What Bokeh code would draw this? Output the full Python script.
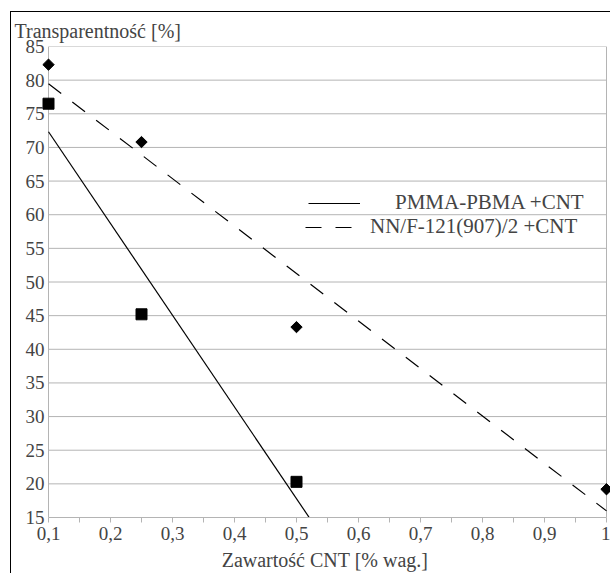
import numpy as np
from bokeh.plotting import figure
from bokeh.models import FixedTicker, Range1d, Legend, LegendItem, Span
from bokeh.embed import file_html
from bokeh.resources import INLINE

# data
pmma_x = [0.1, 0.25, 0.5]
pmma_y = [76.5, 45.2, 20.3]
nn_x = [0.1, 0.25, 0.5, 1.0]
nn_y = [82.3, 70.8, 43.3, 19.2]
series_names = ["PMMA-PBMA +CNT", "NN/F-121(907)/2 +CNT"]
x_ticks = [0.1, 0.2, 0.3, 0.4, 0.5, 0.6, 0.7, 0.8, 0.9, 1.0]
x_tick_labels = ["0,1", "0,2", "0,3", "0,4", "0,5", "0,6", "0,7", "0,8", "0,9", "1"]
x_minor = [0.15, 0.25, 0.35, 0.45, 0.55, 0.65, 0.75, 0.85, 0.95]
y_ticks = [15, 20, 25, 30, 35, 40, 45, 50, 55, 60, 65, 70, 75, 80, 85]

FONT = "Liberation Serif"
GRID = "#b4b4b4"

x_lo, x_hi = x_ticks[0], x_ticks[-1]
y_lo, y_hi = y_ticks[0], y_ticks[-1]
PX = 620.0  # pixels per x unit
pad_l, pad_r = 9, 4

p = figure(frame_width=int(round((x_hi - x_lo) * PX)) + pad_l + pad_r, frame_height=471,
           output_backend="svg", toolbar_location=None,
           x_range=Range1d(x_lo - pad_l / PX, x_hi + pad_r / PX), y_range=Range1d(y_lo, y_hi),
           min_border_left=28, min_border_right=0, min_border_top=34, min_border_bottom=56)
p.styles = {"margin-left": "10px", "margin-top": "11px",
            "border-left": "1px solid black", "border-top": "1px solid black"}

p.title.text = "Transparentność [%]"
p.title.align = "left"
p.title.offset = -25
p.title.text_font = FONT
p.title.text_font_size = "20px"
p.title.text_font_style = "normal"
p.title.standoff = 10

p.outline_line_color = None
p.xgrid.grid_line_color = None
p.ygrid.grid_line_color = None

# horizontal grid lines limited to the data area, plus left axis line and right border
p.segment(x0=[x_lo] * len(y_ticks), x1=[x_hi] * len(y_ticks), y0=y_ticks, y1=y_ticks,
          line_color=GRID, line_width=1, level="underlay")
p.add_layout(Span(location=x_hi, dimension="height", line_color=GRID, line_width=1, level="underlay"))
p.add_layout(Span(location=x_lo, dimension="height", line_color=GRID, line_width=1, level="underlay"))

xa = p.xaxis[0]
xa.ticker = FixedTicker(ticks=x_ticks, minor_ticks=x_minor)
xa.major_label_overrides = dict(zip(x_ticks, x_tick_labels))
xa.bounds = (x_lo, x_hi)
xa.axis_label = "Zawartość CNT [% wag.]"
xa.axis_label_text_font = FONT
xa.axis_label_text_font_size = "20px"
xa.axis_label_text_font_style = "normal"
xa.axis_label_standoff = 6
xa.major_label_text_font = FONT
xa.major_label_text_font_size = "19px"
xa.major_label_standoff = 4
xa.axis_line_color = GRID
xa.major_tick_line_color = GRID
xa.minor_tick_line_color = GRID
xa.major_tick_in = 0
xa.major_tick_out = 5
xa.minor_tick_in = 0
xa.minor_tick_out = 5

ya = p.yaxis[0]
ya.ticker = FixedTicker(ticks=y_ticks)
ya.major_label_text_font = FONT
ya.major_label_text_font_size = "19px"
ya.major_label_standoff = -5
ya.axis_line_color = None
ya.major_tick_line_color = None
ya.major_tick_in = 0
ya.major_tick_out = 0
ya.minor_tick_line_color = None

# trend lines (least-squares fit of each series)
xs_line = np.array([x_lo, x_hi])
k1, b1 = np.polyfit(pmma_x, pmma_y, 1)
k2, b2 = np.polyfit(nn_x, nn_y, 1)
l1 = p.line(xs_line, k1 * xs_line + b1, line_color="black", line_width=1.2)
l2 = p.line(xs_line, k2 * xs_line + b2, line_color="black", line_width=1.2, line_dash="16 14")

p.scatter(pmma_x, pmma_y, marker="square", size=11, fill_color="black", line_color="black")
p.scatter(nn_x, nn_y, marker="square", angle=np.pi / 4, size=8, fill_color="black", line_color="black")


def make_legend(label, renderer, loc, glyph_w, standoff):
    lg = Legend(items=[LegendItem(label=label, renderers=[renderer])], location=loc)
    lg.background_fill_alpha = 0
    lg.border_line_alpha = 0
    lg.padding = 0
    lg.margin = 0
    lg.spacing = 0
    lg.glyph_width = glyph_w
    lg.glyph_height = 24
    lg.label_height = 24
    lg.label_standoff = standoff
    lg.label_text_font = FONT
    lg.label_text_font_size = "21px"
    return lg


p.add_layout(make_legend(series_names[0], l1, (269, 302), 52, 35), "center")
p.add_layout(make_legend(series_names[1], l2, (266, 278), 55, 10), "center")

open("out.html", "w").write(file_html(p, INLINE))
